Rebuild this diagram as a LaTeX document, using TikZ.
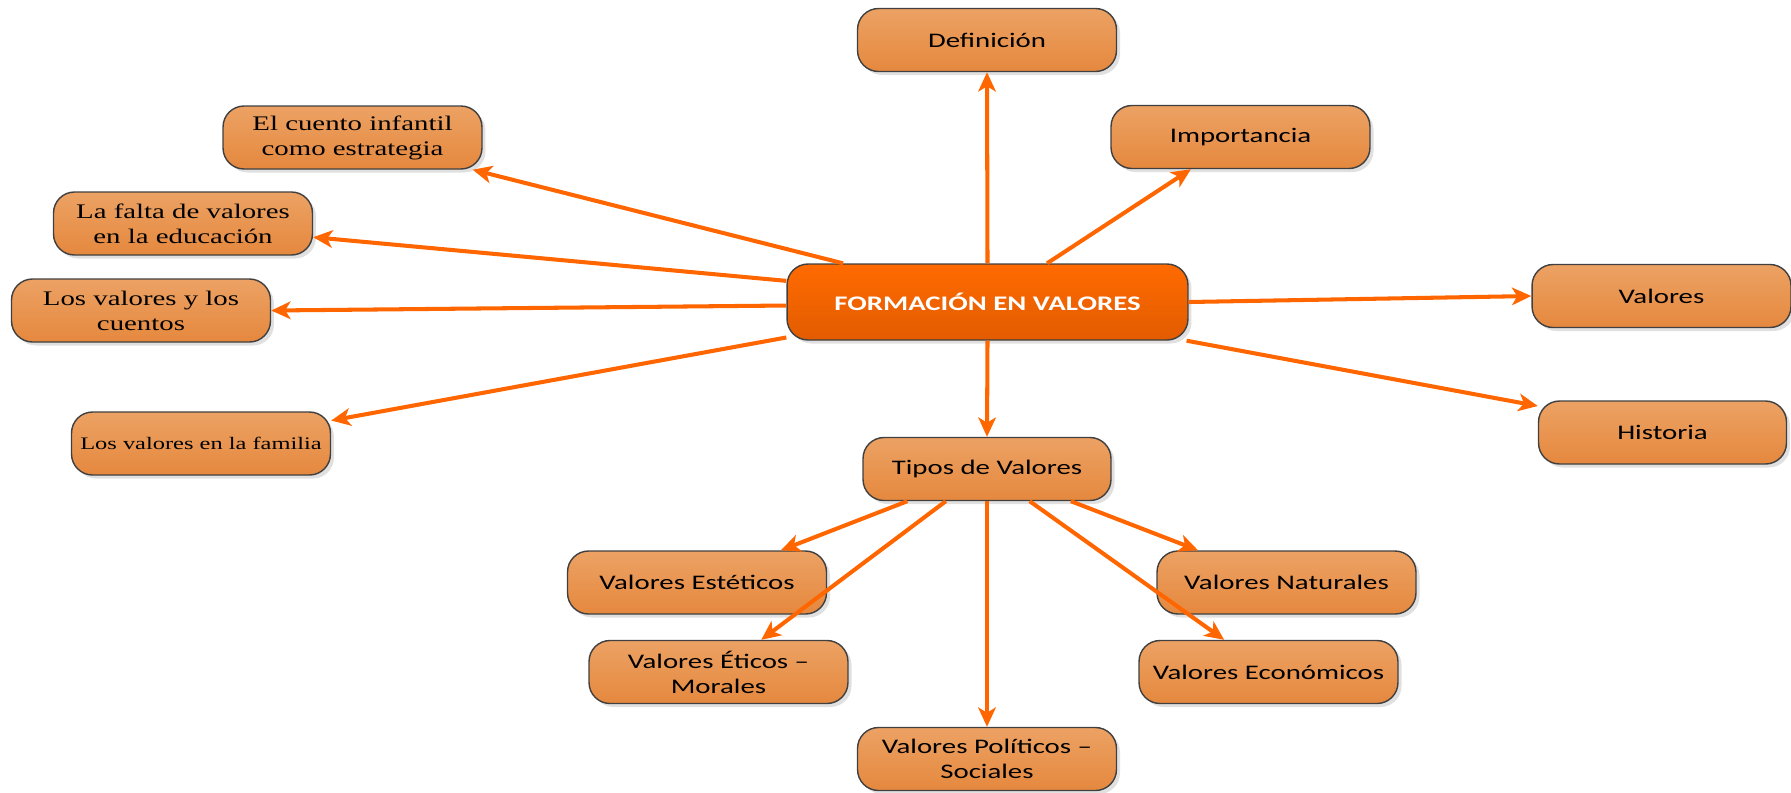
\documentclass[tikz,border=0pt]{standalone}
\usepackage{fontspec}
\setmainfont[FakeStretch=1.39]{Carlito}
\newfontfamily\timesfont[FakeStretch=1.39]{Liberation Serif}
\usetikzlibrary{arrows.meta,shadows}

\definecolor{boxtop}{RGB}{236,162,100}
\definecolor{boxbottom}{RGB}{229,136,62}
\definecolor{maintop}{RGB}{255,106,0}
\definecolor{mainbottom}{RGB}{226,92,0}
\definecolor{arrowcol}{RGB}{255,102,0}
\definecolor{edgecol}{RGB}{64,64,64}

\begin{document}
\begin{tikzpicture}[x=0.02cm, y=-0.02cm,
    topic/.style={draw=edgecol, line width=0.8pt, rectangle, rounded corners=0.42cm,
        top color=boxtop, bottom color=boxbottom, minimum width=5.18cm, minimum height=1.26cm,
        align=center, inner sep=2pt, font=\fontsize{11.8}{14.3}\selectfont,
        drop shadow={shadow xshift=2pt, shadow yshift=-2pt, fill=black, opacity=0.12}},
    serif/.style={topic, font=\timesfont\fontsize{11.8}{14.3}\selectfont},
    main/.style={topic, top color=maintop, bottom color=mainbottom, minimum width=8.02cm,
        minimum height=1.52cm, text=white, font=\fontsize{11.8}{14.3}\selectfont\bfseries},
    link/.style={draw=arrowcol, line width=2.3pt, -{Stealth[length=11pt, width=10pt, inset=3pt]}}]
        \useasboundingbox (0,0) rectangle (1791,792);

        % Nodes
        \node[main] (Form) at (987.5,302) {FORMACIÓN EN VALORES};
        \node[topic] (Def) at (987,40) {Definición};
        \node[topic] (Imp) at (1240.5,137) {Importancia};
        \node[topic] (Val) at (1661.5,296) {Valores};
        \node[topic, minimum width=4.96cm] (Hist) at (1662.5,432.5) {Historia};
        \node[serif] (Cuento) at (352.5,137.5) {El cuento infantil\\como estrategia};
        \node[serif] (Falta) at (183,223.5) {La falta de valores\\en la educación};
        \node[serif] (Cuentos) at (141,310.5) {Los valores y los\\cuentos};
        \node[serif, font=\timesfont\fontsize{10}{12}\selectfont] (Familia) at (201,443.5) {Los valores en la familia};
        \node[topic, minimum width=4.96cm] (Tipos) at (987,469) {Tipos de Valores};
        \node[topic] (Est) at (697,582.5) {Valores Estéticos};
        \node[topic] (Nat) at (1286.5,582.5) {Valores Naturales};
        \node[topic] (Eti) at (718.5,672) {Valores Éticos –\\Morales};
        \node[topic] (Eco) at (1268.5,672) {Valores Económicos};
        \node[topic] (Pol) at (987,759) {Valores Políticos –\\Sociales};

        % Arrows
        \draw[link] (Form.north) -- (Def.south);
        \draw[link] (Form.33) -- (Imp.213);
        \draw[link] (Form.east) -- (Val.west);
        \draw[link] (Form.-11) -- (Hist.168);
        \draw[link] (Form.165.5) -- (Cuento.-15);
        \draw[link] (Form.174) -- (Falta.-6);
        \draw[link] (Form.181) -- (Cuentos.east);
        \draw[link] (Form.190.7) -- (Familia.10);
        \draw[link] (Form.south) -- (Tipos.north);
        \draw[link] (Tipos.202) -- (Est.21);
        \draw[link] (Tipos.218.7) -- (Eti.37);
        \draw[link] (Tipos.south) -- (Pol.north);
        \draw[link] (Tipos.-37.3) -- (Eco.144);
        \draw[link] (Tipos.-21) -- (Nat.160);
    \end{tikzpicture}
\end{document}
